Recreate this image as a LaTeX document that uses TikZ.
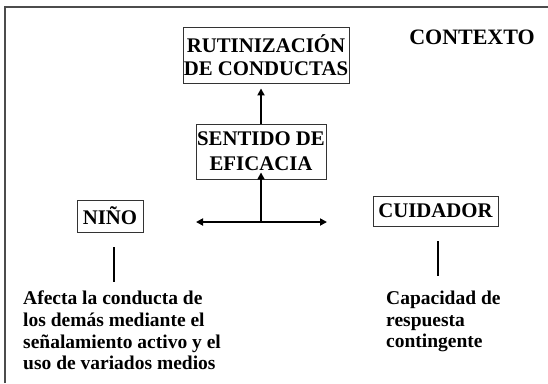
\documentclass[tikz,border=0pt]{standalone}
\usepackage{fontspec}
\setmainfont{Liberation Serif}
\usetikzlibrary{arrows.meta}
\begin{document}
\begin{tikzpicture}[x=1pt,y=-1pt,
  boxnode/.style={draw=black!80,line width=0.9pt,inner sep=0pt,align=center,
    font=\bfseries\fontsize{20.8}{23}\selectfont},
  plain/.style={inner sep=0pt,align=left,font=\bfseries\fontsize{19.5}{21.6}\selectfont},
  arr/.style={line width=2pt,-{Triangle[length=7pt,width=7pt]}},
  bar/.style={line width=2pt}]
\useasboundingbox (0,0) rectangle (548,383);
\fill[white] (0,0) rectangle (548,383);
\draw[black!70,line width=1.5pt] (5,383) -- (5,7) -- (548,7);
\node[boxnode,minimum width=166pt,minimum height=56pt] (rut) at (266,55) {RUTINIZACIÓN\\DE CONDUCTAS};
\node[boxnode,minimum width=130pt,minimum height=55pt,font=\bfseries\fontsize{20.8}{25}\selectfont] (sen) at (261,151.5) {SENTIDO DE\\EFICACIA};
\node[boxnode,minimum width=66pt,minimum height=32pt] (nino) at (110,216) {NIÑO};
\node[boxnode,minimum width=125pt,minimum height=30pt] (cui) at (435.5,211) {CUIDADOR};
\node[font=\bfseries\fontsize{22}{24}\selectfont,inner sep=0pt] (ctx) at (472,37) {CONTEXTO};
\coordinate (hl) at (196,222);
\coordinate (hr) at (327,222);
\coordinate (hm) at (261,222);
\draw[arr] (sen.north) -- ([yshift=-5pt]rut.south -| sen.north);
\draw[arr] (hm) -- ([yshift=7pt]sen.south);
\draw[line width=2pt,{Triangle[length=7pt,width=7pt]}-{Triangle[length=7pt,width=7pt]}] (hl) -- (hr);
\node[plain,anchor=north west] (tl) at (23,291) {Afecta la conducta de\\los demás mediante el\\señalamiento activo y el\\uso de variados medios};
\node[plain,anchor=north west] (tr) at (386,291) {Capacidad de\\respuesta\\contingente};
\coordinate (nt) at (114,247);
\coordinate (nb) at (114,282);
\coordinate (ct) at (438,241);
\coordinate (cb) at (438,276);
\draw[bar] (nt) -- (nb);
\draw[bar] (ct) -- (cb);
\end{tikzpicture}
\end{document}
